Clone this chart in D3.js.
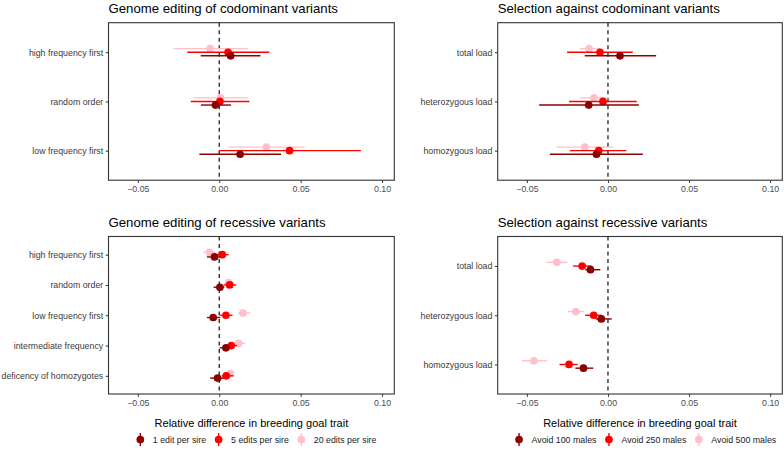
<!DOCTYPE html>
<html>
<head>
<meta charset="utf-8">
<script src="https://cdn.jsdelivr.net/npm/d3@7"></script>
<style>
  html, body { margin: 0; padding: 0; background: #fff; }
  svg { display: block; font-family: "Liberation Sans", Arial, Helvetica, sans-serif; }
</style>
</head>
<body>
<svg id="chart" width="784" height="455"></svg>
<script>
// ---------------- DATA ----------------
const xTicks = [-0.05, 0.00, 0.05, 0.10];
const xDomain = [-0.068, 0.1075];
const axisTitle = "Relative difference in breeding goal trait";

// Genome editing of codominant variants
const gcCats = ["high frequency first", "random order", "low frequency first"];
const gcSeries = ["1 edit per sire", "5 edits per sire", "20 edits per sire"];
const gc1 = [0.0070, -0.0023, 0.0128];
const gc1Lo = [-0.0113, -0.0113, -0.0122];
const gc1Hi = [0.0253, 0.0072, 0.0380];
const gc5 = [0.0054, 0.0004, 0.0432];
const gc5Lo = [-0.0196, -0.0175, 0.0000];
const gc5Hi = [0.0307, 0.0185, 0.0870];
const gc20 = [-0.0056, 0.0008, 0.0290];
const gc20Lo = [-0.0282, -0.0158, 0.0058];
const gc20Hi = [0.0175, 0.0175, 0.0525];

// Selection against codominant variants
const scCats = ["total load", "heterozygous load", "homozygous load"];
const scSeries = ["Avoid 100 males", "Avoid 250 males", "Avoid 500 males"];
const sc100 = [0.0074, -0.0119, -0.0071];
const sc100Lo = [-0.0143, -0.0424, -0.0358];
const sc100Hi = [0.0297, 0.0190, 0.0215];
const sc250 = [-0.0049, -0.0031, -0.0057];
const sc250Lo = [-0.0252, -0.0240, -0.0235];
const sc250Hi = [0.0153, 0.0178, 0.0113];
const sc500 = [-0.0117, -0.0086, -0.0143];
const sc500Lo = [-0.0174, -0.0170, -0.0317];
const sc500Hi = [-0.0050, 0.0010, 0.0033];

// Genome editing of recessive variants
const grCats = ["high frequency first", "random order", "low frequency first", "intermediate frequency", "deficency of homozygotes"];
const gr1 = [-0.0029, 0.0004, -0.0037, 0.0041, -0.0010];
const gr1Lo = [-0.0076, -0.0035, -0.0076, 0.0002, -0.0056];
const gr1Hi = [0.0006, 0.0031, 0.0006, 0.0068, 0.0027];
const gr5 = [0.0019, 0.0064, 0.0041, 0.0074, 0.0043];
const gr5Lo = [-0.0035, 0.0027, 0.0006, 0.0047, 0.0016];
const gr5Hi = [0.0057, 0.0105, 0.0082, 0.0109, 0.0088];
const gr20 = [-0.0060, 0.0058, 0.0146, 0.0119, 0.0068];
const gr20Lo = [-0.0097, 0.0030, 0.0119, 0.0088, 0.0030];
const gr20Hi = [-0.0025, 0.0090, 0.0190, 0.0160, 0.0095];

// Selection against recessive variants
const srCats = ["total load", "heterozygous load", "homozygous load"];
const sr100 = [-0.0108, -0.0041, -0.0151];
const sr100Lo = [-0.0140, -0.0076, -0.0201];
const sr100Hi = [-0.0047, 0.0023, -0.0090];
const sr250 = [-0.0159, -0.0088, -0.0240];
const sr250Lo = [-0.0215, -0.0141, -0.0299];
const sr250Hi = [-0.0102, -0.0039, -0.0186];
const sr500 = [-0.0315, -0.0198, -0.0457];
const sr500Lo = [-0.0380, -0.0247, -0.0530];
const sr500Hi = [-0.0250, -0.0145, -0.0375];

const seriesColors = ["#8B0000", "#FF0000", "#FFC0CB"];

// ---------------- LAYOUT ----------------
const svg = d3.select("#chart");
const colL = {x0: 108.5, x1: 394.3};
const colR = {x0: 497.7, x1: 782.3};
const rowT = {y0: 22.7, y1: 180.2};
const rowB = {y0: 236.5, y1: 394};

function build(cats, s) { // s: [[est, lo, hi] x3]
  return s.map((arr, k) => cats.map((c, i) => ({cat: c, k, est: arr[0][i], lo: arr[1][i], hi: arr[2][i]})));
}

const panels = [
  {title: "Genome editing of codominant variants", col: colL, row: rowT, cats: gcCats, dodge: 0.073,
   data: build(gcCats, [[gc1, gc1Lo, gc1Hi], [gc5, gc5Lo, gc5Hi], [gc20, gc20Lo, gc20Hi]]), xTitle: false},
  {title: "Selection against codominant variants", col: colR, row: rowT, cats: scCats, dodge: 0.073,
   data: build(scCats, [[sc100, sc100Lo, sc100Hi], [sc250, sc250Lo, sc250Hi], [sc500, sc500Lo, sc500Hi]]), xTitle: false},
  {title: "Genome editing of recessive variants", col: colL, row: rowB, cats: grCats, dodge: 0.075,
   data: build(grCats, [[gr1, gr1Lo, gr1Hi], [gr5, gr5Lo, gr5Hi], [gr20, gr20Lo, gr20Hi]]), xTitle: true,
   legend: gcSeries, legendCenter: 256.5},
  {title: "Selection against recessive variants", col: colR, row: rowB, cats: srCats, dodge: 0.075,
   data: build(srCats, [[sr100, sr100Lo, sr100Hi], [sr250, sr250Lo, sr250Hi], [sr500, sr500Lo, sr500Hi]]), xTitle: true,
   legend: scSeries, legendCenter: 646}
];

const tickColor = "#333333";
const labelColor = "#4D4D4D";
const R = 3.85;

panels.forEach(p => {
  const x = d3.scaleLinear().domain(xDomain).range([p.col.x0, p.col.x1]);
  const y = d3.scalePoint().domain(p.cats).range([p.row.y0, p.row.y1]).padding(0.6);
  const step = y.step();
  const g = svg.append("g");

  // title
  g.append("text").attr("x", p.col.x0).attr("y", p.row.y0 - 10)
    .attr("font-size", 13.2).attr("fill", "#000").text(p.title);

  // x axis
  const xAxis = d3.axisBottom(x).tickValues(xTicks).tickFormat(d3.format(".2f"))
    .tickSize(2.8).tickPadding(2.5);
  const gx = g.append("g").attr("transform", `translate(0,${p.row.y1})`).call(xAxis);
  gx.select(".domain").remove();
  gx.selectAll(".tick line").attr("stroke", tickColor).attr("stroke-width", 1);
  gx.selectAll(".tick text").attr("fill", labelColor).attr("font-size", 8.8)
    .attr("font-family", "Liberation Sans, Arial, sans-serif");

  // y axis
  const yAxis = d3.axisLeft(y).tickSize(2.8).tickPadding(2.5);
  const gy = g.append("g").attr("transform", `translate(${p.col.x0},0)`).call(yAxis);
  gy.select(".domain").remove();
  gy.selectAll(".tick line").attr("stroke", tickColor).attr("stroke-width", 1);
  gy.selectAll(".tick text").attr("fill", "#3a3a3a").attr("font-size", 8.8)
    .attr("font-family", "Liberation Sans, Arial, sans-serif");

  // zero line
  g.append("line").attr("x1", x(0)).attr("x2", x(0))
    .attr("y1", p.row.y0).attr("y2", p.row.y1)
    .attr("stroke", "#222").attr("stroke-width", 1.3).attr("stroke-dasharray", "4,3.5");

  // series: draw pink first, dark last
  const offsets = [1, 0, -1];
  [2, 1, 0].forEach(k => {
    const sg = g.append("g");
    const rows = p.data[k];
    const yy = d => y(d.cat) + offsets[k] * p.dodge * step;
    sg.selectAll("line.bar").data(rows).join("line").attr("class", "bar")
      .attr("x1", d => x(d.lo)).attr("x2", d => x(d.hi))
      .attr("y1", yy).attr("y2", yy)
      .attr("stroke", seriesColors[k]).attr("stroke-width", 1.4);
    sg.selectAll("circle").data(rows).join("circle")
      .attr("cx", d => x(d.est)).attr("cy", yy)
      .attr("r", R).attr("fill", seriesColors[k]);
  });

  // panel border
  g.append("rect").attr("x", p.col.x0).attr("y", p.row.y0)
    .attr("width", p.col.x1 - p.col.x0).attr("height", p.row.y1 - p.row.y0)
    .attr("fill", "none").attr("stroke", tickColor).attr("stroke-width", 1.1);

  if (p.xTitle) {
    g.append("text").attr("x", (p.col.x0 + p.col.x1) / 2).attr("y", 426.7)
      .attr("text-anchor", "middle").attr("font-size", 11).attr("fill", "#000").text(axisTitle);
  }

  if (p.legend) {
    const lg = g.append("g");
    const ly = 439.5;
    let cx = 0;
    p.legend.forEach((lab, k) => {
      const it = lg.append("g");
      it.append("line").attr("x1", cx).attr("x2", cx).attr("y1", ly - 6.5).attr("y2", ly + 6.5)
        .attr("stroke", seriesColors[k]).attr("stroke-width", 1.4);
      it.append("circle").attr("cx", cx).attr("cy", ly).attr("r", R).attr("fill", seriesColors[k]);
      const t = it.append("text").attr("x", cx + 12.5).attr("y", ly + 3.1)
        .attr("font-size", 8.8).attr("fill", "#1a1a1a").text(lab);
      const w = t.node().getComputedTextLength();
      cx = cx + 12.5 + w + 12.5;
    });
    const bb = lg.node().getBBox();
    lg.attr("transform", `translate(${p.legendCenter - (bb.x + bb.width / 2)},0)`);
  }
});
</script>
</body>
</html>
